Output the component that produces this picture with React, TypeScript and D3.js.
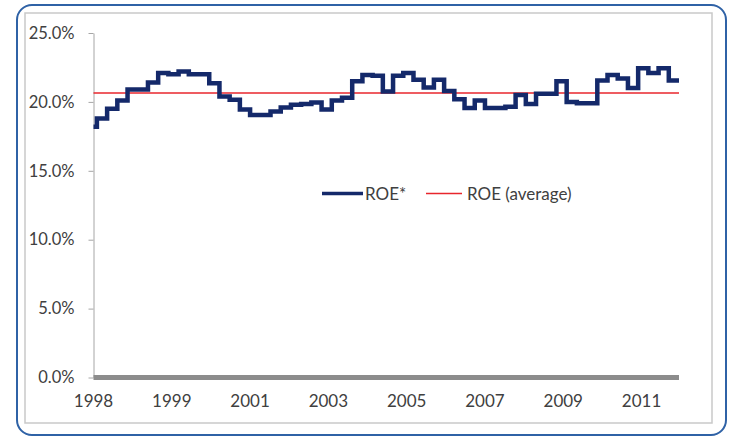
import React, { useEffect, useRef } from 'react';
import * as d3 from 'd3';

// ROE* per quarter (in %), first value is the opening month of 1998
const roeValues = [
  18.2, 18.8, 19.5, 20.1, 20.9, 20.9, 21.4, 22.1, 22.0, 22.2, 22.0, 22.0, 21.35, 20.4, 20.15,
  19.45, 19.05, 19.05, 19.3, 19.6, 19.8, 19.85, 19.95, 19.45, 20.1, 20.3, 21.5, 21.95, 21.9,
  20.75, 21.9, 22.1, 21.6, 21.05, 21.6, 20.8, 20.2, 19.55, 20.1, 19.55, 19.55, 19.65, 20.5,
  19.85, 20.6, 20.6, 21.5, 20.0, 19.9, 19.9, 21.55, 21.95, 21.7, 21.0, 22.45, 22.1, 22.45, 21.55,
];
const roeAverage = 20.65;
const tickYears = ['1998', '1999', '2001', '2003', '2005', '2007', '2009', '2011'];
const yTicks = [0, 5, 10, 15, 20, 25];
const seriesNames = ['ROE*', 'ROE (average)'];

const W = 733;
const H = 439;
const FONT = 'Lato, "Open Sans", sans-serif';

const App = () => {
  const ref = useRef<SVGSVGElement>(null);

  useEffect(() => {
    const svg = d3.select(ref.current);
    svg.selectAll('*').remove();

    const left = 93.5;
    const right = 679;
    const top = 33;
    const bottom = 377.5;

    // months since Jan 1998, values change every quarter after the first month
    const monthOf = (i: number) => (i === 0 ? 0 : 1 + 3 * (i - 1));
    const lastMonth = monthOf(roeValues.length);

    const x = d3.scaleLinear().domain([0, lastMonth]).range([left, right]);
    const y = d3.scaleLinear().domain([0, 25]).range([bottom, top]);

    const pts = roeValues.map((v, i) => ({ m: monthOf(i), v }));
    pts.push({ m: lastMonth, v: roeValues[roeValues.length - 1] });

    // frames
    svg
      .append('rect')
      .attr('x', 17)
      .attr('y', 5)
      .attr('width', 709)
      .attr('height', 430)
      .attr('rx', 15)
      .attr('fill', '#fff')
      .attr('stroke', '#2f62a6')
      .attr('stroke-width', 2);

    svg
      .append('rect')
      .attr('x', 25)
      .attr('y', 13)
      .attr('width', 687)
      .attr('height', 410)
      .attr('fill', 'none')
      .attr('stroke', '#c9c9c9')
      .attr('stroke-width', 1.5);

    // y axis
    const yAxis = svg
      .append('g')
      .attr('transform', 'translate(' + left + ',0)')
      .call(
        d3
          .axisLeft(y)
          .tickValues(yTicks)
          .tickSize(5)
          .tickPadding(14)
          .tickSizeOuter(0)
          .tickFormat(d => (d as number).toFixed(1) + '%')
      );
    yAxis.select('.domain').attr('stroke', '#a6a6a6');
    yAxis.selectAll('line').attr('stroke', '#a6a6a6');
    yAxis
      .selectAll('text')
      .attr('fill', '#404040')
      .attr('font-family', FONT)
      .attr('font-size', 16.5);

    // x axis bar
    svg
      .append('line')
      .attr('x1', x(0))
      .attr('x2', x(lastMonth))
      .attr('y1', y(0))
      .attr('y2', y(0))
      .attr('stroke', '#8c8c8c')
      .attr('stroke-width', 5);

    svg
      .append('g')
      .selectAll('text')
      .data(tickYears)
      .enter()
      .append('text')
      .attr('x', (d, i) => x(i * 23))
      .attr('y', 407)
      .attr('text-anchor', 'middle')
      .attr('fill', '#404040')
      .attr('font-family', FONT)
      .attr('font-size', 17)
      .text(d => d);

    // average line
    svg
      .append('line')
      .attr('x1', x(0))
      .attr('x2', x(lastMonth))
      .attr('y1', y(roeAverage))
      .attr('y2', y(roeAverage))
      .attr('stroke', '#e8262c')
      .attr('stroke-width', 1.5);

    // ROE step line
    svg
      .append('path')
      .datum(pts)
      .attr('fill', 'none')
      .attr('stroke', '#14296a')
      .attr('stroke-width', 4.5)
      .attr(
        'd',
        d3
          .line<{ m: number; v: number }>()
          .x(d => x(d.m))
          .y(d => y(d.v))
          .curve(d3.curveStepAfter)
      );

    // legend
    const lg = svg.append('g').attr('font-family', FONT).attr('font-size', 17).attr('fill', '#404040');
    lg.append('line')
      .attr('x1', 322)
      .attr('x2', 363)
      .attr('y1', 193.5)
      .attr('y2', 193.5)
      .attr('stroke', '#14296a')
      .attr('stroke-width', 3.5);
    lg.append('text').attr('x', 365).attr('y', 199.5).text(seriesNames[0]);
    lg.append('line')
      .attr('x1', 426)
      .attr('x2', 462)
      .attr('y1', 193.5)
      .attr('y2', 193.5)
      .attr('stroke', '#e8262c')
      .attr('stroke-width', 1.5);
    lg.append('text').attr('x', 467).attr('y', 199.5).text(seriesNames[1]);
  }, []);

  return (
    <svg
      ref={ref}
      width={W}
      height={H}
      style={{ position: 'absolute', left: 0, top: 0, background: '#fff' }}
    />
  );
};

export default App;
